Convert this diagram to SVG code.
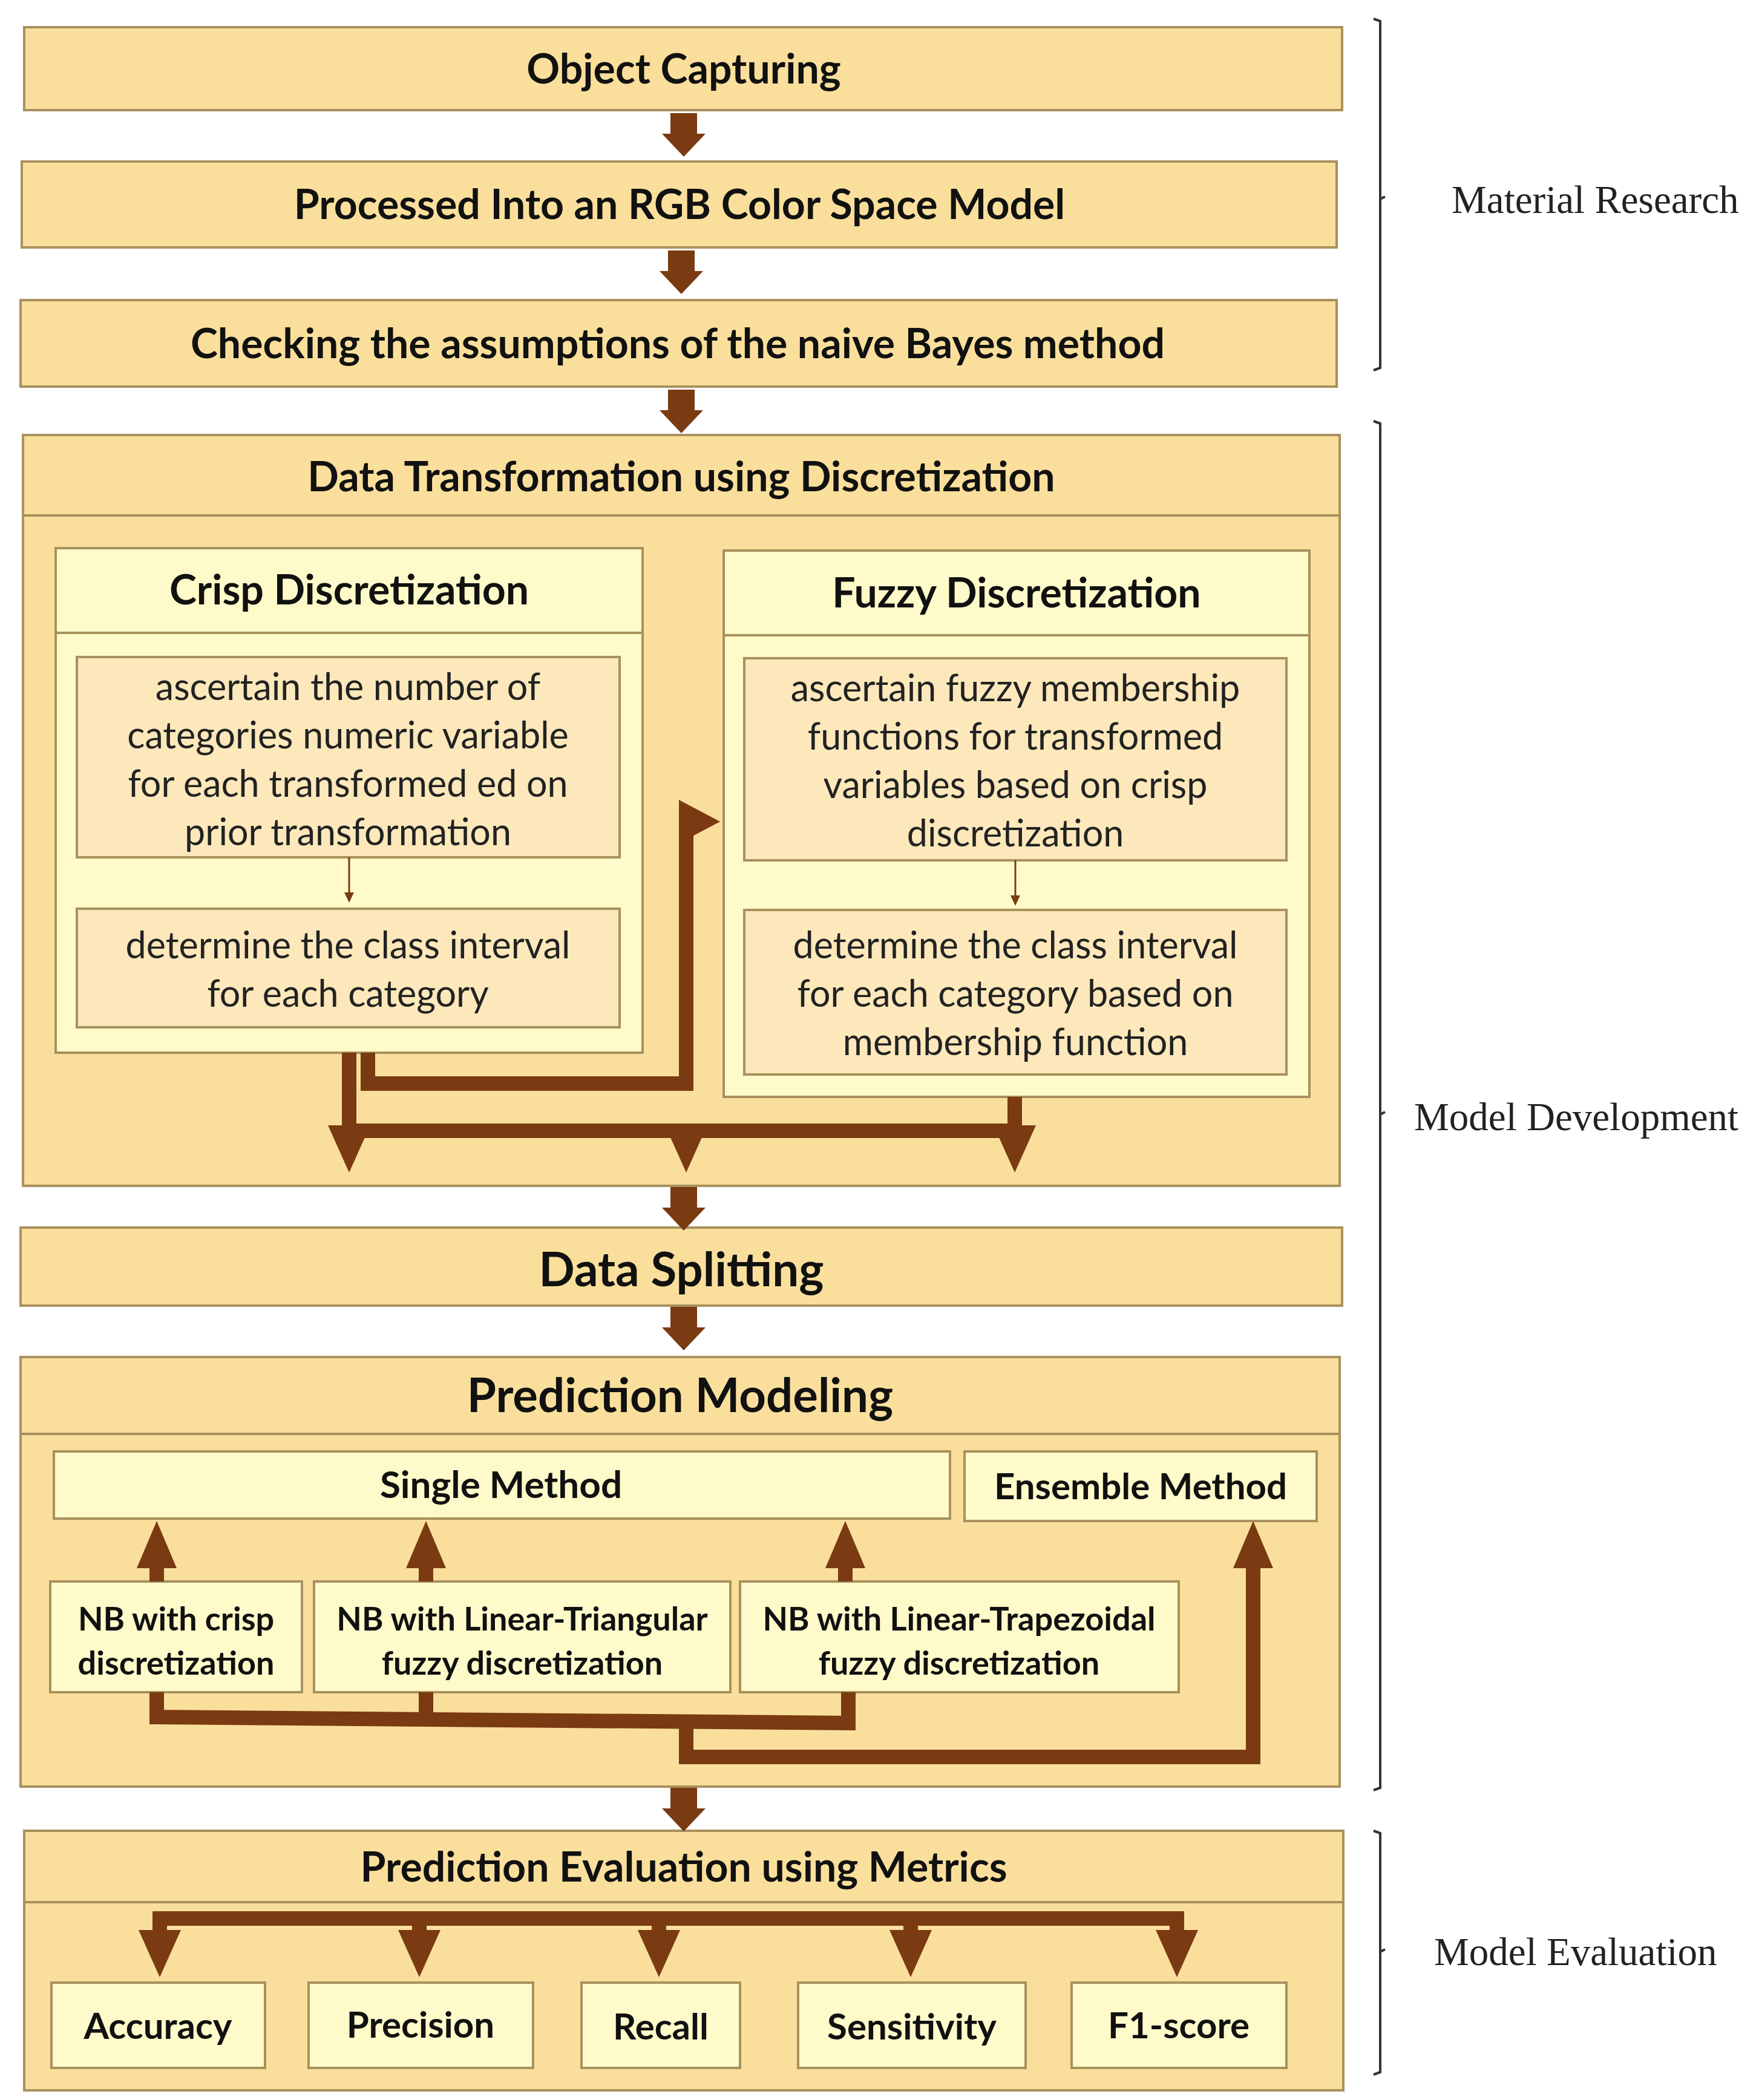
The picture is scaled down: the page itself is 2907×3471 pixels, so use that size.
<svg xmlns="http://www.w3.org/2000/svg" width="2907" height="3471" viewBox="0 0 2907 3471">
<style>
.o{fill:#FADF9C;stroke:#A8915E;stroke-width:4}
.h{fill:#FEFAC9;stroke:#A8915E;stroke-width:4}
.i{fill:#FCE8BA;stroke:#A8915E;stroke-width:4}
.t{font-family:Lato,"Open Sans",sans-serif;font-weight:700;fill:#111;text-anchor:middle}
.b{font-family:Lato,"Open Sans",sans-serif;font-weight:400;fill:#222;text-anchor:middle;font-size:61px}
.s{font-family:"Liberation Serif",serif;fill:#222;font-size:65px}
.a{fill:#7A3A12}
.l{fill:none;stroke:#7A3A12;stroke-width:24}
.br{fill:none;stroke:#333;stroke-width:4}
</style>
<defs>
<polygon id="dn" class="a" points="-22,0 22,0 22,34 36,34 0,72 -36,34 -22,34"/>
<polygon id="dh" class="a" points="-35,0 35,0 0,78"/>
<polygon id="uh" class="a" points="-33,0 33,0 0,-78"/>
</defs>
<g id="n1"><rect class="o" x="40" y="45" width="2178" height="137"/><text class="t" x="1130" y="138" font-size="68">Object Capturing</text></g>
<g id="n2"><rect class="o" x="36" y="267" width="2173" height="142"/><text class="t" x="1123" y="362" font-size="68">Processed Into an RGB Color Space Model</text></g>
<g id="n3"><rect class="o" x="34" y="496" width="2175" height="143"/><text class="t" x="1120" y="592" font-size="68">Checking the assumptions of the naive Bayes method</text></g>
<g id="n4"><rect class="o" x="38" y="719" width="2176" height="1241"/><line x1="38" y1="852" x2="2214" y2="852" stroke="#A8915E" stroke-width="4"/><text class="t" x="1126" y="812" font-size="68">Data Transformation using Discretization</text></g>
<g id="n5"><rect class="h" x="92" y="1046" width="970" height="694"/><rect class="h" x="92" y="906" width="970" height="140"/><text class="t" x="577" y="999" font-size="68">Crisp Discretization</text></g>
<g id="n6"><rect class="i" x="127" y="1086" width="897" height="331"/><text class="b"><tspan x="575" y="1157">ascertain the number of</tspan><tspan x="575" y="1237">categories numeric variable</tspan><tspan x="575" y="1317">for each transformed ed on</tspan><tspan x="575" y="1397">prior transformation</tspan></text></g>
<g id="n7"><rect class="i" x="127" y="1502" width="897" height="196"/><text class="b"><tspan x="575" y="1584">determine the class interval</tspan><tspan x="575" y="1664">for each category</tspan></text></g>
<g id="n8"><rect class="h" x="1196" y="1050" width="968" height="763"/><rect class="h" x="1196" y="910" width="968" height="140"/><text class="t" x="1680" y="1004" font-size="68">Fuzzy Discretization</text></g>
<g id="n9"><rect class="i" x="1230" y="1088" width="896" height="334"/><text class="b"><tspan x="1678" y="1159">ascertain fuzzy membership</tspan><tspan x="1678" y="1239">functions for transformed</tspan><tspan x="1678" y="1319">variables based on crisp</tspan><tspan x="1678" y="1399">discretization</tspan></text></g>
<g id="n10"><rect class="i" x="1230" y="1504" width="896" height="272"/><text class="b"><tspan x="1678" y="1584">determine the class interval</tspan><tspan x="1678" y="1664">for each category based on</tspan><tspan x="1678" y="1744">membership function</tspan></text></g>
<g id="n11"><rect class="o" x="34" y="2029" width="2184" height="129"/><text class="t" x="1126" y="2126" font-size="78">Data Splitting</text></g>
<g id="n12"><rect class="o" x="34" y="2243" width="2180" height="710"/><line x1="34" y1="2370" x2="2214" y2="2370" stroke="#A8915E" stroke-width="4"/><text class="t" x="1124" y="2334" font-size="78">Prediction Modeling</text></g>
<g id="n13"><rect class="h" x="89" y="2399" width="1481" height="111"/><text class="t" x="828" y="2476" font-size="62">Single Method</text></g>
<g id="n14"><rect class="h" x="1594" y="2399" width="582" height="115"/><text class="t" x="1885" y="2478" font-size="60">Ensemble Method</text></g>
<g id="n15"><rect class="h" x="83" y="2614" width="416" height="183"/><text class="t" font-size="54"><tspan x="291" y="2695">NB with crisp</tspan><tspan x="291" y="2768">discretization</tspan></text></g>
<g id="n16"><rect class="h" x="519" y="2614" width="688" height="183"/><text class="t" font-size="54"><tspan x="863" y="2695">NB with Linear-Triangular</tspan><tspan x="863" y="2768">fuzzy discretization</tspan></text></g>
<g id="n17"><rect class="h" x="1223" y="2614" width="725" height="183"/><text class="t" font-size="54"><tspan x="1585" y="2695">NB with Linear-Trapezoidal</tspan><tspan x="1585" y="2768">fuzzy discretization</tspan></text></g>
<g id="n18"><rect class="o" x="40" y="3026" width="2180" height="429"/><line x1="40" y1="3144" x2="2220" y2="3144" stroke="#A8915E" stroke-width="4"/><text class="t" x="1130" y="3110" font-size="68">Prediction Evaluation using Metrics</text></g>
<g id="m1"><rect class="h" x="85" y="3277" width="353" height="141"/><text class="t" x="261" y="3370" font-size="60">Accuracy</text></g>
<g id="m2"><rect class="h" x="510" y="3277" width="371" height="141"/><text class="t" x="695" y="3368" font-size="60">Precision</text></g>
<g id="m3"><rect class="h" x="961" y="3277" width="262" height="141"/><text class="t" x="1092" y="3371" font-size="60">Recall</text></g>
<g id="m4"><rect class="h" x="1319" y="3277" width="376" height="141"/><text class="t" x="1507" y="3371" font-size="60">Sensitivity</text></g>
<g id="m5"><rect class="h" x="1771" y="3277" width="355" height="141"/><text class="t" x="1948" y="3369" font-size="60">F1-score</text></g>
<g id="connectors">
<use href="#dn" x="1130" y="187"/>
<use href="#dn" x="1126" y="414"/>
<use href="#dn" x="1126" y="644"/>
<use href="#dn" x="1130" y="1962"/>
<use href="#dn" x="1130" y="2160"/>
<use href="#dn" x="1130" y="2955"/>
<line x1="577" y1="1417" x2="577" y2="1480" stroke="#7A3A12" stroke-width="3"/><polygon class="a" points="569,1475 585,1475 577,1492"/>
<line x1="1678" y1="1422" x2="1678" y2="1485" stroke="#7A3A12" stroke-width="3"/><polygon class="a" points="1670,1480 1686,1480 1678,1497"/>
<polyline class="l" points="608,1740 608,1791 1134,1791 1134,1358"/>
<polygon class="a" points="1122,1322 1190,1358 1122,1394"/>
<polyline class="l" points="577,1740 577,1869 1677,1869 1677,1813"/>
<line class="l" x1="1134" y1="1869" x2="1134" y2="1880"/>
<use href="#dh" x="577" y="1860"/>
<use href="#dh" x="1134" y="1860"/>
<use href="#dh" x="1677" y="1860"/>
<line class="l" x1="259" y1="2614" x2="259" y2="2580"/><use href="#uh" x="259" y="2592"/>
<line class="l" x1="704" y1="2614" x2="704" y2="2580"/><use href="#uh" x="704" y="2592"/>
<line class="l" x1="1397" y1="2614" x2="1397" y2="2580"/><use href="#uh" x="1397" y="2592"/>
<polyline class="l" points="259,2797 259,2838 1402,2848 1402,2797"/>
<line class="l" x1="704" y1="2797" x2="704" y2="2842"/>
<polyline class="l" points="1134,2846 1134,2904 2071,2904 2071,2570"/>
<use href="#uh" x="2071" y="2592"/>
<polyline class="l" points="264,3230 264,3171 1945,3171 1945,3230"/>
<line class="l" x1="693" y1="3171" x2="693" y2="3220"/>
<line class="l" x1="1089" y1="3171" x2="1089" y2="3220"/>
<line class="l" x1="1505" y1="3171" x2="1505" y2="3220"/>
<use href="#dh" x="264" y="3190"/>
<use href="#dh" x="693" y="3190"/>
<use href="#dh" x="1089" y="3190"/>
<use href="#dh" x="1505" y="3190"/>
<use href="#dh" x="1945" y="3190"/>
</g>
<g id="braces">
<path class="br" d="M2270,31 L2281,35 L2281,608 L2270,612 M2281,329 L2289,325"/>
<text class="s" x="2399" y="352">Material Research</text>
<path class="br" d="M2270,696 L2281,700 L2281,2955 L2270,2959 M2281,1842 L2289,1838"/>
<text class="s" x="2337" y="1868">Model Development</text>
<path class="br" d="M2270,3026 L2281,3030 L2281,3425 L2270,3429 M2281,3226 L2289,3222"/>
<text class="s" x="2370" y="3248">Model Evaluation</text>
</g>
</svg>
